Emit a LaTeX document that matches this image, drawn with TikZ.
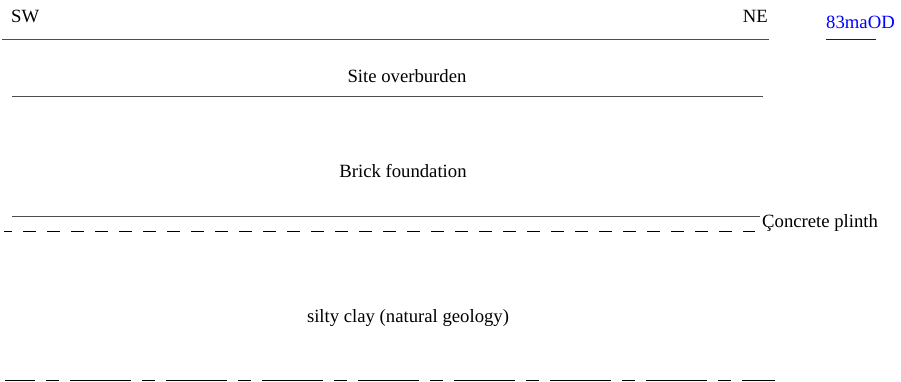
\documentclass[tikz,border=0pt]{standalone}
\usepackage{fontspec}
\setmainfont{Liberation Serif}
\begin{document}
\begin{tikzpicture}[x=1pt,y=-1pt,
  lbl/.style={inner sep=0pt,anchor=base,font=\fontsize{18.7}{22}\selectfont},
  layerline/.style={draw=black!70,line width=1pt},
  blueline/.style={draw=blue,line width=1pt}]
\useasboundingbox (0,0) rectangle (901,382);
\node[lbl,anchor=base west] (sw) at (11,23) {SW};
\node[lbl,anchor=base east] (ne) at (768,23) {NE};
\node[lbl,anchor=base west,text=blue] (od) at (826,29) {83maOD};
\coordinate (l1a) at (2,39.5); \coordinate (l1b) at (769,39.5);
\draw[layerline] (l1a) -- (l1b);
\coordinate (ua) at (826,39.5); \coordinate (ub) at (876,39.5);
\draw[blueline] (ua) -- (ub);
\node[lbl] (so) at (407,83) {Site overburden};
\coordinate (l2a) at (12,96.5); \coordinate (l2b) at (763,96.5);
\draw[layerline] (l2a) -- (l2b);
\node[lbl] (bf) at (403,177) {Brick foundation};
\coordinate (l3a) at (12,216.5); \coordinate (l3b) at (760,216.5);
\draw[layerline] (l3a) -- (l3b);
\coordinate (d1a) at (4,231); \coordinate (d1b) at (755,231);
\draw[black,line width=1pt,dash pattern=on 13pt off 11pt,dash phase=5pt] (d1a) -- (d1b);
\node[lbl,anchor=base west] (cp) at (762,227) {Çoncrete plinth};
\node[lbl] (sc) at (408,322) {silty clay (natural geology)};
\coordinate (d2a) at (5,380); \coordinate (d2b) at (775,380);
\draw[black,line width=1pt,dash pattern=on 61pt off 11pt on 13pt off 11pt,dash phase=31pt] (d2a) -- (d2b);
\end{tikzpicture}
\end{document}
